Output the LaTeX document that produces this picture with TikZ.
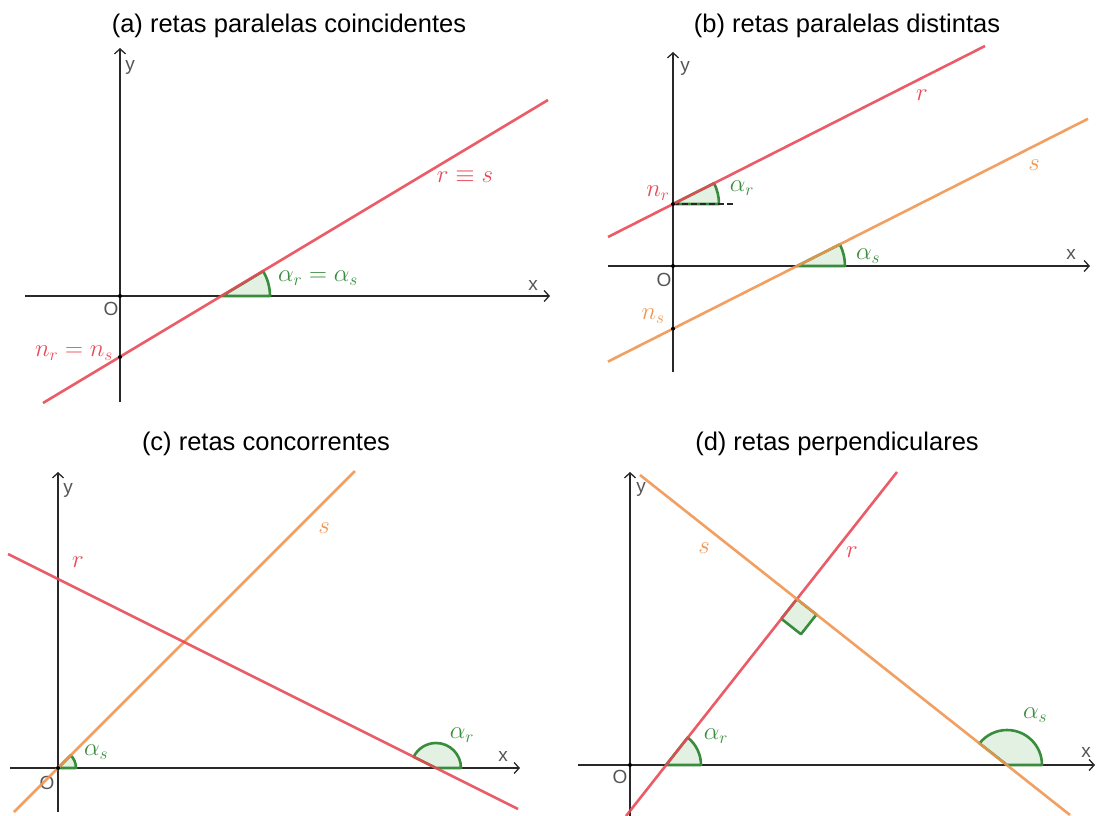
\documentclass[tikz,border=0pt]{standalone}
\usepackage{fontspec}
\setmainfont{Liberation Sans}
\usetikzlibrary{arrows.meta}
\definecolor{rline}{RGB}{232,74,86}
\definecolor{sline}{RGB}{240,150,80}
\definecolor{ang}{RGB}{56,140,60}
\definecolor{angfill}{RGB}{226,241,226}
\definecolor{axisc}{RGB}{40,40,40}
\definecolor{lblc}{RGB}{85,85,85}
\begin{document}
\begin{tikzpicture}[x=1pt,y=1pt,
  axis/.style={draw=axisc, line width=1.3pt},
  axisarrow/.style={axis, -{Straight Barb[length=5pt,width=11pt,line width=1.3pt]}},
  rl/.style={draw=rline, line width=2.6pt, draw opacity=0.9},
  sl/.style={draw=sline, line width=2.6pt, draw opacity=0.9},
  angsec/.style={draw=ang, fill=angfill, line width=2.6pt, line join=round},
  titlet/.style={font=\fontsize{25.5}{30}\selectfont, text=black, inner sep=0pt},
  axl/.style={font=\fontsize{19}{21}\selectfont, text=lblc, inner sep=0pt},
  mr/.style={text=rline, font=\fontsize{24.5}{28}\selectfont, inner sep=0pt},
  ms/.style={text=sline, font=\fontsize{24.5}{28}\selectfont, inner sep=0pt},
  mg/.style={text=ang, font=\fontsize{24.5}{28}\selectfont, inner sep=0pt},
  dotp/.style={fill=black, circle, inner sep=0pt, minimum size=4pt}
]
\useasboundingbox (0,0) rectangle (1105,-816);

% ===== (a) =====
\node[titlet] (ta) at (289,-26) {(a) retas paralelas coincidentes};
\coordinate (aXl) at (25,-296); \coordinate (aXr) at (550,-296);
\coordinate (aYb) at (120,-402); \coordinate (aYt) at (120,-48);
\draw[axisarrow] (aXl) -- (aXr);
\draw[axisarrow] (aYb) -- (aYt);
\node[axl] (ax) at (533,-285) {x};
\node[axl] (ay) at (130,-67) {y};
\node[axl] (aOl) at (111,-309) {O};
\coordinate (aA) at (222,-296);
\draw[angsec] (aA) -- ++(48,0) arc[start angle=0,end angle=31,radius=48] -- cycle;
\coordinate (aR1) at (43,-403); \coordinate (aR2) at (548,-100);
\draw[rl] (aR1) -- (aR2);
\node[dotp] (aO) at (120,-296) {};
\node[dotp] (aN) at (120,-357) {};
\node[mr] (anl) at (74,-353) {$n_r = n_s$};
\node[mr] (arl) at (465,-177) {$r\equiv s$};
\node[mg] (aal) at (318,-278) {$\alpha_r=\alpha_s$};

% ===== (b) =====
\node[titlet] (tb) at (847,-26) {(b) retas paralelas distintas};
\coordinate (bXl) at (608,-266); \coordinate (bXr) at (1090,-266);
\coordinate (bYb) at (673,-372); \coordinate (bYt) at (673,-52);
\draw[axisarrow] (bXl) -- (bXr);
\draw[axisarrow] (bYb) -- (bYt);
\node[axl] (bx) at (1071,-254) {x};
\node[axl] (by) at (685,-68) {y};
\node[axl] (bOl) at (664,-280) {O};
\coordinate (bNr) at (673,-204);
\coordinate (bAs) at (797,-266);
\draw[angsec] (bNr) -- ++(46,0) arc[start angle=0,end angle=26.8,radius=46] -- cycle;
\coordinate (bD) at (733,-204);
\draw[axisc, line width=2pt, dash pattern=on 6pt off 3pt] (bNr) -- (bD);
\draw[angsec] (bAs) -- ++(48,0) arc[start angle=0,end angle=26.8,radius=48] -- cycle;
\coordinate (bR1) at (608,-237); \coordinate (bR2) at (985,-46);
\coordinate (bS1) at (608,-361.6); \coordinate (bS2) at (1088,-118.8);
\draw[rl] (bR1) -- (bR2);
\draw[sl] (bS1) -- (bS2);
\node[dotp] (bO) at (673,-266) {};
\node[dotp] (bnr) at (bNr) {};
\node[dotp] (bns) at (673,-328.7) {};
\node[mr] (brl) at (922,-95) {$r$};
\node[ms] (bsl) at (1034,-165) {$s$};
\node[mr] (bnrl) at (658,-193) {$n_r$};
\node[ms] (bnsl) at (653,-316) {$n_s$};
\node[mg] (barl) at (742,-188) {$\alpha_r$};
\node[mg] (basl) at (868,-256) {$\alpha_s$};

% ===== (c) =====
\node[titlet] (tc) at (266,-444) {(c) retas concorrentes};
\coordinate (cXl) at (10,-768); \coordinate (cXr) at (520,-768);
\coordinate (cYb) at (58,-812); \coordinate (cYt) at (58,-472);
\draw[axisarrow] (cXl) -- (cXr);
\draw[axisarrow] (cYb) -- (cYt);
\node[axl] (cx) at (503,-756) {x};
\node[axl] (cy) at (68,-490) {y};
\node[axl] (cOl) at (47,-783) {O};
\coordinate (cO) at (58,-768);
\coordinate (cAr) at (436,-768);
\draw[angsec] (cO) -- ++(18,0) arc[start angle=0,end angle=45,radius=18] -- cycle;
\draw[angsec] (cAr) -- ++(25,0) arc[start angle=0,end angle=153.4,radius=25] -- cycle;
\coordinate (cS1) at (14,-812); \coordinate (cS2) at (355,-471);
\coordinate (cR1) at (8,-554); \coordinate (cR2) at (518,-809);
\draw[sl] (cS1) -- (cS2);
\draw[rl] (cR1) -- (cR2);
\node[dotp] (cOd) at (cO) {};
\node[mr] (crl) at (78,-562) {$r$};
\node[ms] (csl) at (324,-528) {$s$};
\node[mg] (casl) at (96,-752) {$\alpha_s$};
\node[mg] (carl) at (462,-735) {$\alpha_r$};

% ===== (d) =====
\node[titlet] (td) at (837,-444) {(d) retas perpendiculares};
\coordinate (dXl) at (578,-765); \coordinate (dXr) at (1095,-765);
\coordinate (dYb) at (630,-816); \coordinate (dYt) at (630,-472);
\draw[axisarrow] (dXl) -- (dXr);
\draw[axisarrow] (dYb) -- (dYt);
\node[axl] (dx) at (1086,-752) {x};
\node[axl] (dy) at (641,-489) {y};
\node[axl] (dOl) at (620,-777) {O};
\coordinate (dAr) at (666,-765);
\coordinate (dAs) at (1007,-765);
\coordinate (dP) at (796.8,-599.1);
\draw[angsec] (dAr) -- ++(35,0) arc[start angle=0,end angle=51.74,radius=35] -- cycle;
\draw[angsec] (dAs) -- ++(35,0) arc[start angle=0,end angle=141.74,radius=35] -- cycle;
\draw[angsec] (dP) -- ++(231.74:25) -- ++(-38.26:25) -- ++(51.74:25) -- cycle;
\coordinate (dR1) at (626,-816); \coordinate (dR2) at (897,-472);
\coordinate (dS1) at (640,-475); \coordinate (dS2) at (1070,-815);
\draw[rl] (dR1) -- (dR2);
\draw[sl] (dS1) -- (dS2);
\node[dotp] (dOd) at (630,-765) {};
\node[mr] (drl) at (852,-552) {$r$};
\node[ms] (dsl) at (704,-548) {$s$};
\node[mg] (darl) at (716,-736) {$\alpha_r$};
\node[mg] (dasl) at (1035,-715) {$\alpha_s$};
\end{tikzpicture}
\end{document}
